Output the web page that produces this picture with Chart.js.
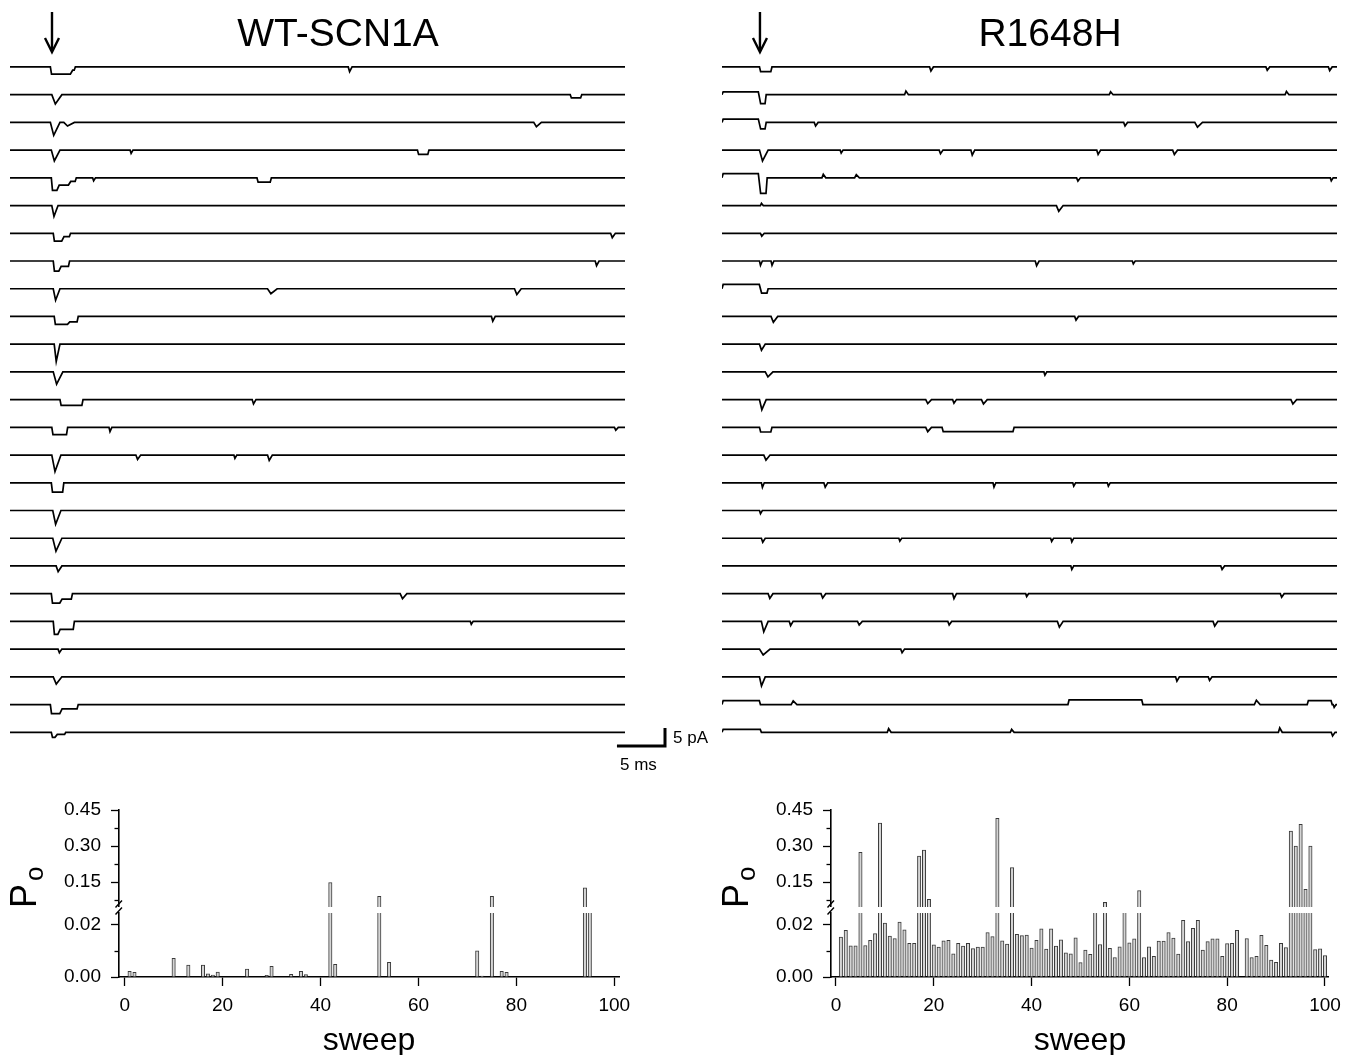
<!DOCTYPE html>
<html>
<head>
<meta charset="utf-8">
<script src="https://cdn.jsdelivr.net/npm/chart.js@4.4.1/dist/chart.umd.min.js"></script>
<style>
body { margin: 0; background: #fff; width: 1351px; height: 1055px; position: relative; overflow: hidden; font-family: "Liberation Sans", Arial, sans-serif; }
canvas { position: absolute; }
.lbl { position: absolute; color: #000; white-space: nowrap; }
.title { font-size: 39px; line-height: 39px; width: 400px; text-align: center; top: 13px; }
.small { font-size: 17px; line-height: 20px; }
.po { font-size: 36px; line-height: 36px; transform-origin: left top; transform: rotate(-90deg); }
.po span { font-size: 26px; position: relative; top: 7px; margin-left: 3px; }
</style>
</head>
<body>
<canvas id="wtTraces" width="680" height="760" style="left:10px;top:0px"></canvas>
<canvas id="mutTraces" width="615" height="760" style="left:722px;top:0px"></canvas>
<canvas id="wtUpper" width="620" height="112" style="left:19px;top:795px"></canvas>
<canvas id="wtLower" width="620" height="160" style="left:19px;top:895px"></canvas>
<canvas id="mutUpper" width="618" height="112" style="left:731px;top:795px"></canvas>
<canvas id="mutLower" width="618" height="160" style="left:731px;top:895px"></canvas>

<div class="lbl title" style="left:138px">WT-SCN1A</div>
<div class="lbl title" style="left:850px">R1648H</div>
<div class="lbl small" style="left:673px;top:728px">5 pA</div>
<div class="lbl small" style="left:620px;top:755px">5 ms</div>
<div class="lbl po" style="left:6px;top:908px">P<span>o</span></div>
<div class="lbl po" style="left:718px;top:908px">P<span>o</span></div>

<script>
'use strict';
var FONT = '"Liberation Sans", Arial, sans-serif';

// ---- single channel sweeps: each event is [start ms, end ms, inward current pA]
// (negative current = upward shift of the trace)
var sweepMs = 64;
var wtArrowMs = 4.37;
var mutArrowMs = 3.95;

var wtEvents = [
    [[4.2, 6.4, 2.0], [6.4, 6.8, 0.9], [35.2, 35.6, 1.3]],
    [[4.35, 5.4, 2.6], [58.3, 59.5, 0.9]],
    [[4.2, 5.2, 3.6], [5.6, 6.7, 1.0], [54.5, 55.3, 1.2]],
    [[4.3, 5.2, 3.0], [12.5, 12.8, 0.9], [42.4, 43.6, 1.2]],
    [[4.3, 5.0, 3.5], [5.0, 6.2, 2.0], [6.2, 6.9, 1.0], [8.6, 8.9, 0.8], [25.7, 27.2, 1.2]],
    [[4.35, 5.0, 3.0]],
    [[4.5, 5.5, 2.2], [5.5, 6.3, 0.9], [62.5, 63.0, 1.2]],
    [[4.5, 5.2, 2.8], [5.2, 6.2, 1.5], [60.9, 61.3, 1.3]],
    [[4.5, 5.2, 3.2], [26.8, 27.8, 1.4], [52.5, 53.2, 1.6]],
    [[4.6, 6.1, 2.2], [6.1, 7.1, 1.5], [50.1, 50.5, 1.3]],
    [[4.6, 5.2, 4.8]],
    [[4.5, 5.5, 3.4]],
    [[5.2, 7.6, 1.6], [25.2, 25.6, 1.2]],
    [[4.35, 6.0, 2.0], [10.3, 10.6, 1.2], [62.9, 63.3, 0.8]],
    [[4.35, 5.3, 4.6], [13.1, 13.6, 1.2], [23.3, 23.6, 0.9], [26.8, 27.3, 1.5]],
    [[4.3, 5.6, 2.6]],
    [[4.45, 5.3, 3.8]],
    [[4.45, 5.4, 3.6]],
    [[4.8, 5.4, 1.6]],
    [[4.3, 5.3, 2.6], [5.3, 6.5, 1.5], [40.6, 41.3, 1.4]],
    [[4.5, 5.1, 3.6], [5.1, 6.7, 2.2], [47.9, 48.2, 0.8]],
    [[5.0, 5.4, 1.0]],
    [[4.5, 5.4, 2.0]],
    [[4.2, 5.3, 2.5], [5.3, 7.1, 1.2]],
    [[4.3, 4.8, 1.4], [4.8, 5.8, 0.6]]
];

var mutEvents = [
    [[3.9, 5.2, 1.3], [21.6, 22.0, 1.1], [56.6, 57.0, 0.9], [63.1, 63.5, 1.0]],
    [[0, 3.9, -0.8], [3.9, 4.6, 2.5], [19.0, 19.4, -1.0], [40.3, 40.7, -0.8], [58.6, 59.0, -0.9]],
    [[0, 3.9, -0.9], [3.9, 4.6, 1.8], [9.6, 10.0, 1.0], [41.8, 42.2, 1.0], [49.2, 50.0, 1.3]],
    [[3.9, 4.8, 3.0], [12.3, 12.6, 0.8], [22.6, 23.0, 1.0], [25.9, 26.3, 1.4], [39.0, 39.4, 1.2], [46.9, 47.4, 1.2]],
    [[0, 3.9, -1.2], [3.9, 4.7, 4.3], [10.4, 10.8, -1.0], [13.8, 14.3, -0.9], [36.9, 37.3, 0.9], [63.3, 63.6, 0.8]],
    [[4.0, 4.3, -0.6], [34.8, 35.5, 1.6]],
    [[4.0, 4.4, 0.8]],
    [[3.9, 4.2, 1.2], [5.1, 5.4, 1.2], [32.6, 33.0, 1.3], [42.7, 43.0, 0.8]],
    [[0, 4.0, -1.2], [4.0, 4.8, 1.2]],
    [[5.1, 5.8, 1.6], [36.7, 37.1, 1.0]],
    [[3.9, 4.5, 1.7]],
    [[4.5, 5.3, 1.4], [33.5, 33.8, 0.9]],
    [[3.9, 4.6, 2.8], [21.2, 21.8, 1.1], [24.0, 24.4, 1.0], [27.0, 27.6, 1.2], [59.2, 59.8, 1.2]],
    [[3.9, 5.2, 1.3], [21.2, 21.8, 1.2], [22.9, 30.4, 1.2]],
    [[4.35, 5.0, 1.4]],
    [[4.1, 4.4, 1.3], [10.6, 11.0, 1.2], [28.2, 28.5, 1.2], [36.5, 36.8, 0.9], [40.1, 40.4, 0.9]],
    [[3.9, 4.2, 0.9]],
    [[4.1, 4.5, 1.1], [18.4, 18.7, 0.8], [34.2, 34.5, 0.9], [36.3, 36.6, 1.0]],
    [[36.3, 36.6, 1.0], [51.9, 52.3, 1.0]],
    [[4.8, 5.3, 1.3], [10.3, 10.8, 1.2], [24.0, 24.4, 1.4], [31.6, 31.9, 0.8], [58.1, 58.5, 1.0]],
    [[4.1, 4.8, 2.9], [7.0, 7.4, 1.2], [14.1, 14.6, 1.0], [23.5, 23.9, 1.0], [34.9, 35.5, 1.6], [51.1, 51.6, 1.3]],
    [[3.9, 5.0, 1.6], [18.6, 19.0, 1.0]],
    [[3.9, 4.5, 2.5], [47.2, 47.6, 1.2], [50.6, 51.0, 1.0]],
    [[0, 4.0, -1.1], [7.2, 7.8, -1.0], [36.0, 43.8, -1.3], [55.4, 56.0, -1.2], [60.9, 63.5, -1.1], [63.6, 63.9, 0.8]],
    [[0, 4.1, -0.8], [17.2, 17.6, -1.0], [30.0, 30.4, -0.8], [57.9, 58.3, -1.2], [63.4, 63.8, 1.0]]
];

// ---- open probability per sweep (sweeps 1..100)
var sweeps = [];
for (var s = 1; s <= 100; s++) { sweeps.push(s); }

var wtPo = [
    0.0022, 0.0018, 0, 0, 0, 0, 0, 0, 0, 0.0072,
    0, 0, 0.0046, 0, 0, 0.0046, 0.0012, 0.0007, 0.0019, 0,
    0, 0, 0, 0, 0.0030, 0, 0, 0, 0.0006, 0.0041,
    0, 0, 0, 0.0010, 0, 0.0022, 0.0009, 0, 0, 0,
    0, 0.148, 0.0049, 0, 0, 0, 0, 0, 0, 0,
    0, 0.090, 0, 0.0056, 0, 0, 0, 0, 0, 0,
    0, 0, 0, 0, 0, 0, 0, 0, 0, 0,
    0, 0.0101, 0.0004, 0, 0.090, 0, 0.0022, 0.0018, 0, 0,
    0, 0, 0, 0, 0, 0, 0, 0, 0, 0,
    0, 0, 0, 0.126, 0.035, 0, 0, 0, 0, 0
];

var mutPo = [
    0.0153, 0.0179, 0.0120, 0.0120, 0.274, 0.0121, 0.0141, 0.0167, 0.396, 0.0207,
    0.0157, 0.0148, 0.0211, 0.0181, 0.0129, 0.0129, 0.258, 0.283, 0.078, 0.0124,
    0.0115, 0.0139, 0.0141, 0.0089, 0.0129, 0.0119, 0.0129, 0.0109, 0.0115, 0.0115,
    0.0171, 0.0155, 0.415, 0.0139, 0.0127, 0.210, 0.0164, 0.0159, 0.0161, 0.0111,
    0.0141, 0.0185, 0.0107, 0.0185, 0.0119, 0.0143, 0.0093, 0.0089, 0.0151, 0.0055,
    0.0103, 0.0087, 0.035, 0.0125, 0.065, 0.0110, 0.0075, 0.0116, 0.035, 0.0131,
    0.0147, 0.114, 0.0075, 0.0116, 0.0079, 0.0138, 0.0138, 0.0171, 0.0150, 0.0088,
    0.0218, 0.0136, 0.0187, 0.0218, 0.0103, 0.0136, 0.0147, 0.0147, 0.0079, 0.0128,
    0.0129, 0.0179, 0, 0.0148, 0.0075, 0.0079, 0.0160, 0.0122, 0.0065, 0.0056,
    0.0129, 0.0113, 0.3625, 0.300, 0.390, 0.120, 0.300, 0.0105, 0.0108, 0.0082
];

var xTicks = [0, 20, 40, 60, 80, 100];
var upperTicks = [0.15, 0.30, 0.45];
var upperMinor = [0.075, 0.225, 0.375];
var lowerTicks = [0, 0.02];
var lowerMinor = [0.01];

// layout of the sweep stack (pA)
var traceTop = -18.6;
var traceGap = 7.7;
var traceFloor = -211.1;

function buildTrace(events, base) {
    var pts = [{ x: 0, y: base }];
    for (var i = 0; i < events.length; i++) {
        var e = events[i];
        var t0 = e[0], t1 = e[1], lvl = base - e[2], w = t1 - t0;
        var prev = events[i - 1], next = events[i + 1];
        var joinPrev = prev && Math.abs(prev[1] - t0) < 0.01;
        var joinNext = next && Math.abs(next[0] - t1) < 0.01;
        if (w < 1.2 && !joinPrev && !joinNext) {
            // brief opening -> spike
            pts.push({ x: t0, y: base }, { x: t0 + w * 0.35, y: lvl }, { x: t1, y: base });
        } else {
            if (!joinPrev) { pts.push({ x: t0, y: base }); }
            pts.push({ x: t0 + 0.12, y: lvl }, { x: t1 - 0.12, y: lvl });
            if (!joinNext) { pts.push({ x: t1, y: base }); }
        }
    }
    pts.push({ x: sweepMs, y: base });
    return pts;
}

var traceMarks = {
    id: 'traceMarks',
    afterDraw: function (chart, args, opts) {
        var ctx = chart.ctx;
        var xs = chart.scales.x, ys = chart.scales.y;
        var ax = xs.getPixelForValue(opts.arrowAt);
        ctx.save();
        ctx.strokeStyle = '#000';
        ctx.lineWidth = 2.4;
        ctx.beginPath();
        ctx.moveTo(ax, 12);
        ctx.lineTo(ax, 51);
        ctx.stroke();
        ctx.beginPath();
        ctx.moveTo(ax - 7, 38);
        ctx.lineTo(ax, 52);
        ctx.lineTo(ax + 7, 38);
        ctx.stroke();
        if (opts.scaleBar) {
            var w = xs.getPixelForValue(5) - xs.getPixelForValue(0);
            var h = ys.getPixelForValue(0) - ys.getPixelForValue(5);
            var cx = opts.scaleBar[0], cy = opts.scaleBar[1];
            ctx.lineWidth = 3;
            ctx.beginPath();
            ctx.moveTo(cx - w, cy);
            ctx.lineTo(cx, cy);
            ctx.lineTo(cx, cy - h);
            ctx.stroke();
        }
        ctx.restore();
    }
};

function makeTraceChart(canvasId, traces, marks, padRight) {
    var datasets = traces.map(function (ev, i) {
        return {
            data: buildTrace(ev, traceTop - i * traceGap),
            borderColor: '#000',
            borderWidth: 1.7,
            pointRadius: 0,
            tension: 0
        };
    });
    return new Chart(document.getElementById(canvasId), {
        type: 'line',
        data: { datasets: datasets },
        options: {
            responsive: false,
            animation: false,
            events: [],
            layout: { padding: { left: 0, right: padRight, top: 0, bottom: 0 } },
            scales: {
                x: { type: 'linear', min: 0, max: sweepMs, display: false },
                y: { type: 'linear', min: traceFloor, max: 0, display: false }
            },
            plugins: { legend: { display: false }, tooltip: { enabled: false }, traceMarks: marks }
        },
        plugins: [traceMarks]
    });
}

var minorTicks = {
    id: 'minorTicks',
    afterDraw: function (chart, args, opts) {
        var ctx = chart.ctx;
        var ys = chart.scales.y;
        var x0 = chart.chartArea.left;
        var top = chart.chartArea.top;
        ctx.save();
        ctx.strokeStyle = '#000';
        ctx.lineWidth = 1.3;
        opts.values.forEach(function (v) {
            var y = Math.round(ys.getPixelForValue(v)) + 0.5;
            ctx.beginPath();
            ctx.moveTo(x0 - 4.5, y);
            ctx.lineTo(x0, y);
            ctx.stroke();
        });
        if (opts.axisBreak) {
            ctx.lineWidth = 1.4;
            ctx.beginPath();
            ctx.moveTo(x0 - 3.5, top - 5.5);
            ctx.lineTo(x0 + 3, top - 12.5);
            ctx.moveTo(x0 - 3.5, top + 1.5);
            ctx.lineTo(x0 + 3, top - 5.5);
            ctx.stroke();
        }
        ctx.restore();
    }
};

function setTicks(values) {
    return function (scale) {
        scale.ticks = values.map(function (v) { return { value: v }; });
    };
}

function makePoChart(canvasId, values, part, xMin, xMax) {
    var upper = part === 'upper';
    var points = sweeps.map(function (sw, i) { return { x: sw, y: values[i] }; });
    return new Chart(document.getElementById(canvasId), {
        type: 'bar',
        data: {
            datasets: [{
                data: points,
                backgroundColor: '#d4d4d4',
                borderColor: '#3a3a3a',
                borderWidth: 1,
                barThickness: 3.4,
                clip: 0
            }]
        },
        options: {
            responsive: false,
            animation: false,
            events: [],
            layout: { padding: { left: 0, right: 20, top: upper ? 15 : 18, bottom: 0 } },
            scales: {
                x: {
                    type: 'linear',
                    min: xMin,
                    max: xMax,
                    offset: false,
                    display: !upper,
                    afterBuildTicks: setTicks(xTicks),
                    afterFit: function (scale) { scale.height = upper ? 0 : 78; },
                    grid: { display: true, offset: false, drawOnChartArea: false, drawTicks: true, tickLength: 9, tickColor: '#000', tickWidth: 1.3 },
                    border: { display: true, color: '#000', width: 1.6 },
                    ticks: { color: '#000', padding: 8, maxRotation: 0, autoSkip: false, font: { family: FONT, size: 19 } },
                    title: { display: !upper, text: 'sweep', color: '#000', padding: { top: 0, bottom: -5 }, font: { family: FONT, size: 32 } }
                },
                y: {
                    type: 'linear',
                    min: upper ? 0.046 : 0,
                    max: upper ? 0.45 : 0.0246,
                    afterBuildTicks: setTicks(upper ? upperTicks : lowerTicks),
                    afterFit: function (scale) { scale.width = 100; scale.paddingTop = 0; scale.paddingBottom = 0; },
                    grid: { display: true, drawOnChartArea: false, drawTicks: true, tickLength: 8, tickColor: '#000', tickWidth: 1.3 },
                    border: { display: true, color: '#000', width: 1.6 },
                    ticks: {
                        color: '#000', padding: 10, font: { family: FONT, size: 19 },
                        callback: function (v) { return v.toFixed(2); }
                    }
                }
            },
            plugins: {
                legend: { display: false },
                tooltip: { enabled: false },
                minorTicks: { values: upper ? upperMinor : lowerMinor, axisBreak: !upper }
            }
        },
        plugins: [minorTicks]
    });
}

makeTraceChart('wtTraces', wtEvents, { arrowAt: wtArrowMs, scaleBar: [655, 746] }, 65);
makeTraceChart('mutTraces', mutEvents, { arrowAt: mutArrowMs, scaleBar: null }, 0);

makePoChart('wtUpper', wtPo, 'upper', -1.16, 100.96);
makePoChart('wtLower', wtPo, 'lower', -1.16, 100.96);
makePoChart('mutUpper', mutPo, 'upper', -1.02, 100.8);
makePoChart('mutLower', mutPo, 'lower', -1.02, 100.8);
</script>
</body>
</html>
